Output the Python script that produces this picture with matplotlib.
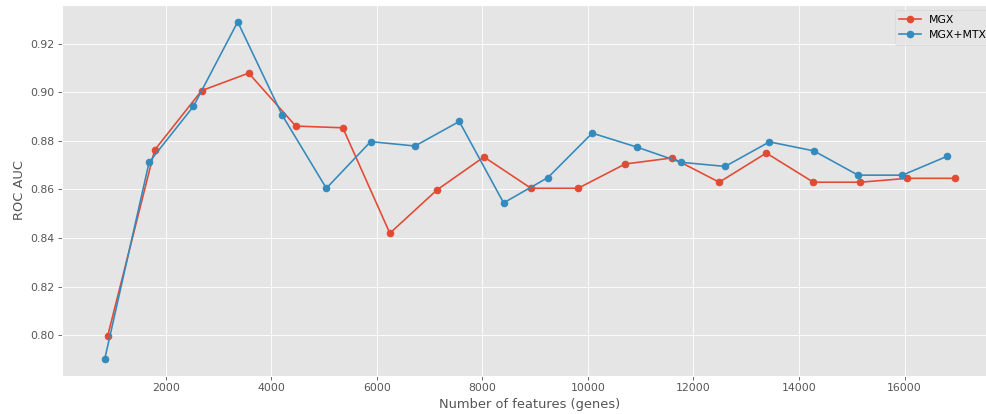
import matplotlib
matplotlib.use("Agg")
import matplotlib.pyplot as plt

plt.style.use("ggplot")

mgx_x = [892 * k for k in range(1, 20)]
mgx_y = [0.7995, 0.8762, 0.9007, 0.9079, 0.8861, 0.8854, 0.8420, 0.8598, 0.8734,
         0.8605, 0.8605, 0.8705, 0.8730, 0.8630, 0.8750, 0.8630, 0.8630, 0.8646, 0.8646]

mtx_x = [840 * k for k in range(1, 21)]
mtx_y = [0.7903, 0.8712, 0.8942, 0.9290, 0.8907, 0.8605, 0.8797, 0.8779, 0.8880, 0.8545,
         0.8649, 0.8832, 0.8775, 0.8712, 0.8695, 0.8796, 0.8759, 0.8659, 0.8659, 0.8736]

DPI = 78
fig = plt.figure(figsize=(986 / DPI, 414 / DPI), dpi=DPI)
W, H = 986, 414
left, right, top, bottom = 62.3, 997, 5, 375.7
ax = fig.add_axes([left / W, (H - bottom) / H, (right - left) / W, (bottom - top) / H])

ax.plot(mgx_x, mgx_y, marker="o", label="MGX")
ax.plot(mtx_x, mtx_y, marker="o", label="MGX+MTX")
ax.set_xlabel("Number of features (genes)")
ax.set_ylabel("ROC AUC")
ax.legend(loc="upper right")

fig.savefig("out.png", dpi=DPI)
